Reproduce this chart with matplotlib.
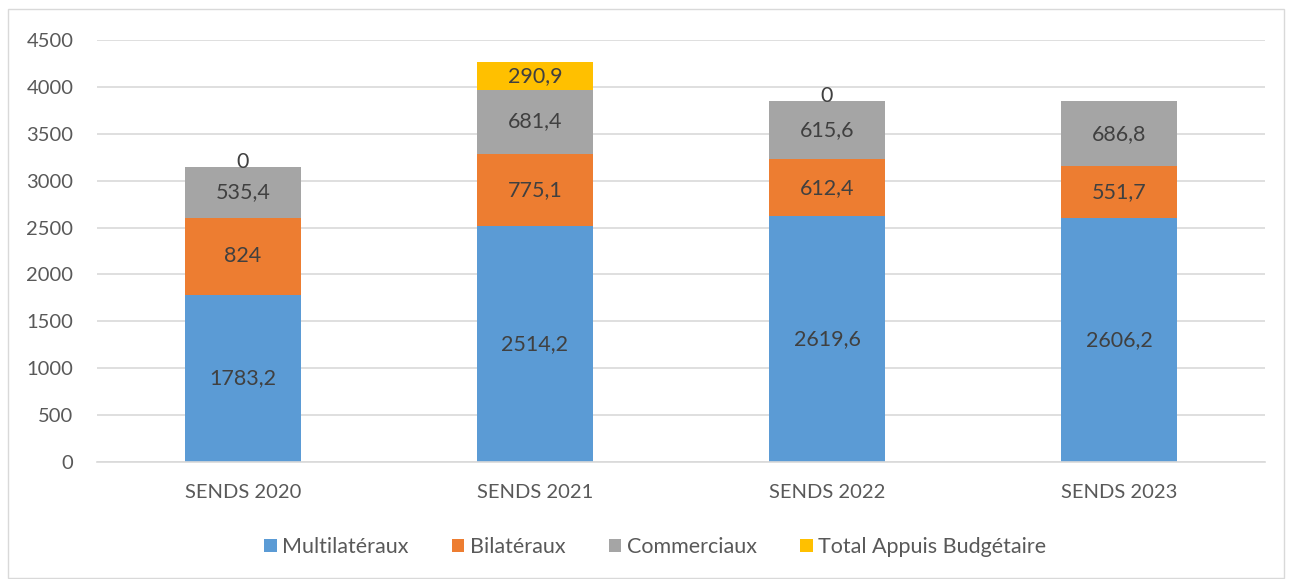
import matplotlib
matplotlib.use('Agg')
import matplotlib.pyplot as plt
import matplotlib.patches as mpatches
import numpy as np

categories = ["SENDS 2020", "SENDS 2021", "SENDS 2022", "SENDS 2023"]
multilateraux = [1783.2, 2514.2, 2619.6, 2606.2]
bilateraux = [824, 775.1, 612.4, 551.7]
commerciaux = [535.4, 681.4, 615.6, 686.8]
appuis_budgetaire = [0, 290.9, 0, None]

series_names = ["Multilatéraux", "Bilatéraux", "Commerciaux", "Total Appuis Budgétaire"]
series_colors = ["#5B9BD5", "#ED7D31", "#A5A5A5", "#FFC000"]
TEXT = "#595959"

plt.rcParams['font.family'] = ['Lato', 'DejaVu Sans']


def fmt(v):
    s = f"{v:.1f}".rstrip('0').rstrip('.')
    return s.replace('.', ',')


fig = plt.figure(figsize=(12.92, 5.79), dpi=100)
fig.patch.set_facecolor('white')
fig.patches.append(mpatches.Rectangle((8 / 1292, 0.002), 1276 / 1292, 1 - 9 / 579 - 0.002,
                                      transform=fig.transFigure, fill=False,
                                      edgecolor='#D9D9D9', linewidth=1))

ax = fig.add_axes([97 / 1292, 1 - 462 / 579, (1265 - 97) / 1292, (462 - 40) / 579])
x = np.arange(len(categories))
width = 0.4
bottom = np.zeros(len(categories))

all_series = [multilateraux, bilateraux, commerciaux, appuis_budgetaire]
for name, vals, col in zip(series_names, all_series, series_colors):
    v = np.array([np.nan if a is None else a for a in vals], dtype=float)
    h = np.nan_to_num(v)
    ax.bar(x, h, width, bottom=bottom, color=col, label=name, zorder=2)
    for i, val in enumerate(vals):
        if val is None:
            continue
        if val == 0:
            ax.text(x[i], bottom[i] + 60, "0", ha='center', va='center',
                    fontsize=15.5, color='#404040', zorder=3)
        else:
            ax.text(x[i], bottom[i] + val / 2, fmt(val), ha='center', va='center',
                    fontsize=15.5, color='#404040', zorder=3)
    bottom = bottom + h

ax.set_xlim(-0.5, len(categories) - 0.5)
ax.set_ylim(0, 4500)
ax.set_yticks(np.arange(0, 4501, 500))
ax.set_xticks(x)
ax.set_xticklabels(categories)
ax.tick_params(axis='both', length=0, labelsize=14.5, colors=TEXT)
ax.tick_params(axis='y', pad=17)
ax.tick_params(axis='x', pad=16)
ax.grid(axis='y', color='#D9D9D9', linewidth=1.2, zorder=0)
for s in ['top', 'right', 'left']:
    ax.spines[s].set_visible(False)
ax.spines['bottom'].set_color('#D9D9D9')
ax.spines['bottom'].set_linewidth(1.2)

fig.legend(loc='center', bbox_to_anchor=(655 / 1292, 1 - 547 / 579), ncol=4, frameon=False,
           fontsize=15.5, labelcolor=TEXT, handlelength=0.6, handleheight=0.6,
           handletextpad=0.25, columnspacing=2.0)

plt.savefig('out.png', dpi=100, facecolor='white')
plt.close()
